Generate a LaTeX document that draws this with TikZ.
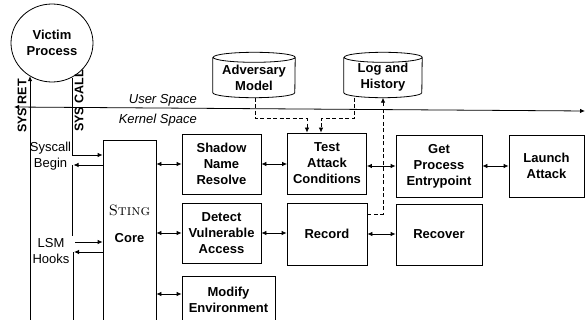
\documentclass[tikz,border=0pt]{standalone}
\usepackage{fontspec}
\setsansfont{Liberation Sans}
\usetikzlibrary{arrows.meta,shapes.geometric,calc}
\begin{document}
\begin{tikzpicture}[x=1pt,y=-1pt,
  font=\sffamily\fontsize{13}{16}\selectfont,
  conn/.style={line width=0.8pt},
  boxtext/.style={inner sep=0pt, align=center, font=\sffamily\bfseries\fontsize{13}{16}\selectfont},
  box/.style={boxtext, draw, line width=0.8pt},
  tip/.style={conn,-{Latex[length=5pt,width=4.5pt]}},
  dtip/.style={conn,{Latex[length=5pt,width=4.5pt]}-{Latex[length=5pt,width=4.5pt]}},
  dsh/.style={dash pattern=on 4pt off 2.5pt}]
\useasboundingbox (0,0) rectangle (585,320);

% process
\node[box, ellipse, minimum width=82pt, minimum height=78pt] (victim) at (52,43) {Victim\\Process};

% core
\node[box, minimum width=53pt, minimum height=200pt] (core) at (129.5,240) {};
\node[align=center, inner sep=0pt] (corelbl) at (129.5,224) {{\rmfamily\fontsize{15}{18}\selectfont\textsc{Sting}}\\[11pt]\textbf{Core}};

% boxes
\node[box, minimum width=79pt, minimum height=60pt] (shadow) at (221.5,164) {Shadow\\Name\\Resolve};
\node[box, minimum width=79pt, minimum height=61pt] (test) at (327,163.5) {Test\\Attack\\Conditions};
\node[box, minimum width=86pt, minimum height=62pt] (get) at (439,166) {Get\\Process\\Entrypoint};
\node[box, minimum width=75pt, minimum height=62pt] (launch) at (546.5,166) {Launch\\Attack};
\node[box, minimum width=79pt, minimum height=60pt] (detect) at (221.5,233) {Detect\\Vulnerable\\Access};
\node[box, minimum width=80pt, minimum height=62pt] (record) at (327,234) {Record};
\node[box, minimum width=86pt, minimum height=61pt] (recover) at (439,234.5) {Recover};
\node[box, minimum width=93pt, minimum height=48pt] (modify) at (228.5,300) {Modify\\Environment};

% databases
\node[boxtext, minimum width=82pt, minimum height=45pt] (adv) at (254,77.5) {Adversary\\Model};
\node[boxtext, minimum width=78pt, minimum height=45pt] (log) at (383,77.5) {Log and\\History};
\draw[conn] ([yshift=-2.5pt]adv.north west) -- ([yshift=7.5pt]adv.south west)
  arc[start angle=180,end angle=360,x radius=41pt,y radius=5pt]
  -- ([yshift=-2.5pt]adv.north east)
  arc[start angle=0,end angle=360,x radius=41pt,y radius=5pt];
\draw[conn] ([yshift=-2.5pt]log.north west) -- ([yshift=7.5pt]log.south west)
  arc[start angle=180,end angle=360,x radius=39pt,y radius=5pt]
  -- ([yshift=-2.5pt]log.north east)
  arc[start angle=0,end angle=360,x radius=39pt,y radius=5pt];

% space separator
\coordinate (usl) at (14,107);
\coordinate (usr) at (585,111);
\draw[dtip] (usl) -- (usr);
\node[anchor=east, inner sep=0pt, font=\sffamily\itshape\fontsize{13}{16}\selectfont] (user) at (197,100) {User Space};
\node[anchor=east, inner sep=0pt, font=\sffamily\itshape\fontsize{13}{16}\selectfont] (kernel) at (197,120) {Kernel Space};

% system call lines
\coordinate (sysret) at (30,330);
\coordinate (sb) at (72,155);
\coordinate (sr) at (73.5,165);
\coordinate (lsmtop) at (72,165);
\coordinate (lsmbot) at (72,236);
\coordinate (lsmin) at (75,242);
\coordinate (lsmout) at (74,252);
\coordinate (lsmdown) at (73,330);
\draw[tip] (sysret) -- (sysret |- victim.236);
\draw[tip] (sb |- victim.300) -- (sb) -- (sb -| core.west);
\draw[tip] (core.west |- sr) -- (sr);
\draw[conn] (lsmtop) -- (lsmbot);
\draw[tip] (lsmin) -- (lsmin -| core.west);
\draw[tip] (core.west |- lsmout) -- (lsmout);
\draw[conn] (lsmout -| lsmdown) -- (lsmdown);

\node[rotate=90, inner sep=0pt, font=\sffamily\bfseries\fontsize{12.5}{15}\selectfont] (sysrettxt) at (22,106) {SYS RET};
\node[rotate=90, inner sep=0pt, font=\sffamily\bfseries\fontsize{12.5}{15}\selectfont] (syscalltxt) at (79,101) {SYS CALL};
\node[align=center, inner sep=0pt] (sbtxt) at (50.5,156.5) {Syscall\\Begin};
\node[align=center, inner sep=0pt] (lsmtxt) at (51,251) {LSM\\Hooks};

% double arrows
\draw[dtip] (core.east |- shadow.west) -- (shadow.west);
\draw[dtip] (shadow.east) -- (test.west |- shadow.east);
\draw[dtip] (test.east |- get.west) -- (get.west);
\draw[dtip] (get.east) -- (launch.west);
\draw[dtip] (core.east |- detect.west) -- (detect.west);
\draw[dtip] (detect.east) -- (record.west |- detect.east);
\draw[dtip] (record.east) -- (recover.west |- record.east);
\draw[dtip] (core.east |- 0,294) -- (modify.west |- 0,294);

% dashed
\draw[tip,dsh] ([xshift=1pt,yshift=2.5pt]adv.south) -- ++(0,21) -| ([xshift=-20pt]test.north);
\draw[tip,dsh] ([xshift=-29pt,yshift=2.5pt]log.south) -- ++(0,21) -| ([xshift=-6pt]test.north);
\draw[tip,dsh] ([yshift=20pt]record.east) -| ([yshift=2.5pt]log.south);
\end{tikzpicture}
\end{document}
